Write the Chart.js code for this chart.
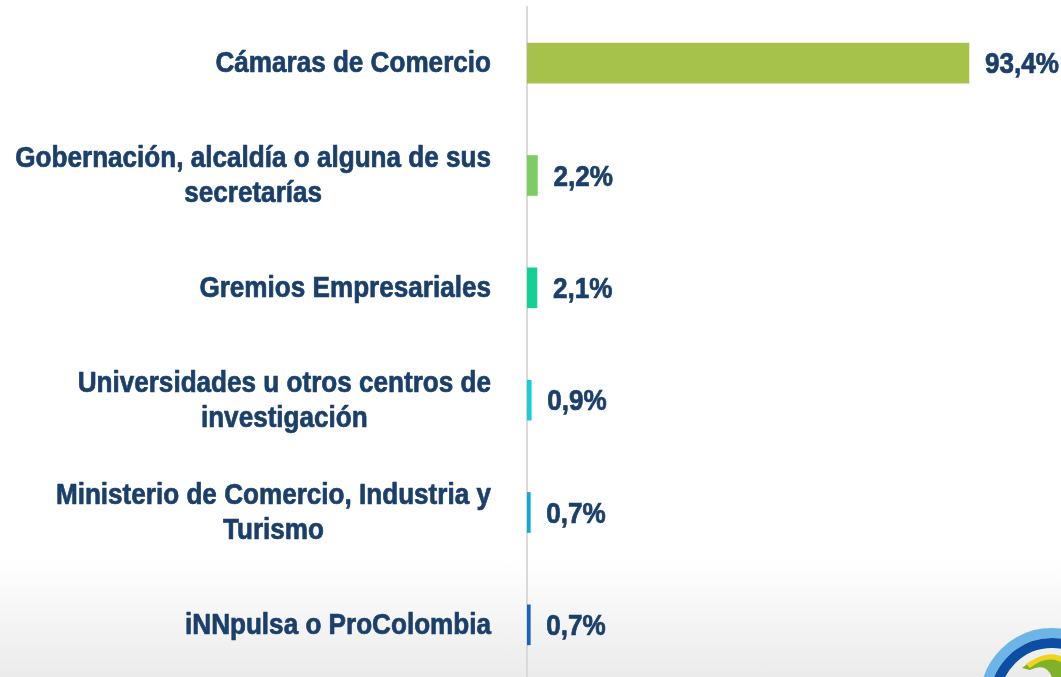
<!DOCTYPE html>
<html>
<head>
<meta charset="utf-8">
<script src="https://cdn.jsdelivr.net/npm/chart.js@4.4.1/dist/chart.umd.min.js"></script>
<style>
html,body{margin:0;padding:0;width:1061px;height:677px;overflow:hidden;}
body{background:linear-gradient(to bottom,#ffffff 0px,#ffffff 560px,#ebebeb 677px);position:relative;}
#wrap{position:absolute;left:0;top:0;width:1061px;height:681px;}
#logo{position:absolute;left:0;top:0;width:1061px;height:677px;pointer-events:none;}
</style>
</head>
<body>
<div id="wrap"><canvas id="c"></canvas></div>
<svg id="logo" width="1061" height="677">
  <circle cx="1052" cy="700" r="67" fill="none" stroke="#6db5e6" stroke-width="10"/>
  <circle cx="1052" cy="700" r="57" fill="none" stroke="#0b4ea2" stroke-width="10"/>
  <path d="M1022 668 Q1044 650 1061 658 L1061 677 L1052 677 Q1046 662 1030 670 Z" fill="#7fb22a"/>
  <path d="M1026 664 Q1046 650 1061 656 L1061 662 Q1046 655 1030 668 Z" fill="#f0d41c"/>
</svg>
<script>
const categories = [
  "Cámaras de Comercio",
  ["Gobernación, alcaldía o alguna de sus", "secretarías"],
  "Gremios Empresariales",
  ["Universidades u otros centros de", "investigación"],
  ["Ministerio de Comercio, Industria y", "Turismo"],
  "iNNpulsa o ProColombia"
];
const values = [93.4, 2.2, 2.1, 0.9, 0.7, 0.7];
const barColors = ["#a6c24a", "#7dcd63", "#15d096", "#17ccdc", "#0fa6de", "#1565c5"];

const FONT = '"Liberation Sans",Arial,sans-serif';
const NARROW = 0.9;
const TEXT_COLOR = "#1b3f6b";
const fmt = v => v.toFixed(1).replace(".", ",") + "%";

function narrowText(ctx, text, x, y, align) {
  const w = ctx.measureText(text).width * NARROW;
  let left = x;
  if (align === "center") left = x - w / 2;
  else if (align === "right") left = x - w;
  ctx.save();
  ctx.translate(left, y);
  ctx.scale(NARROW, 1);
  ctx.textAlign = "left";
  ctx.strokeStyle = TEXT_COLOR;
  ctx.lineWidth = 0.7;
  ctx.lineJoin = "round";
  ctx.strokeText(text, 0, 0);
  ctx.fillText(text, 0, 0);
  ctx.restore();
}

const labelPlugin = {
  id: "customLabels",
  afterDraw(chart) {
    const ctx = chart.ctx;
    const yScale = chart.scales.y;
    ctx.save();
    ctx.fillStyle = TEXT_COLOR;
    ctx.font = "bold 29px " + FONT;
    ctx.textBaseline = "middle";
    const rightEdge = chart.chartArea.left - 36;
    const lh = 35;
    categories.forEach((lab, i) => {
      const lines = Array.isArray(lab) ? lab : [lab];
      const yc = yScale.getPixelForTick(i);
      const w = Math.max(...lines.map(l => ctx.measureText(l).width * NARROW));
      const cx = rightEdge - w / 2;
      lines.forEach((l, k) => {
        const y = yc + 1 + (k - (lines.length - 1) / 2) * lh;
        narrowText(ctx, l, cx, y, "center");
      });
    });
    const meta = chart.getDatasetMeta(0);
    meta.data.forEach((bar, i) => {
      narrowText(ctx, fmt(values[i]), bar.x + 16, bar.y + 2, "left");
    });
    ctx.restore();
  }
};

new Chart(document.getElementById("c"), {
  type: "bar",
  data: {
    labels: categories,
    datasets: [{
      data: values,
      backgroundColor: barColors,
      borderWidth: 0,
      barThickness: 40
    }]
  },
  options: {
    indexAxis: "y",
    responsive: true,
    maintainAspectRatio: false,
    animation: false,
    layout: { padding: { top: 7, bottom: 0, left: 0, right: 0 } },
    plugins: { legend: { display: false }, tooltip: { enabled: false } },
    scales: {
      x: { display: false, min: 0, max: 112.85 },
      y: {
        grid: { display: false },
        border: { display: true, color: "#d9d9d9", width: 2 },
        ticks: { display: false },
        afterFit(scale) { scale.width = 527; }
      }
    }
  },
  plugins: [labelPlugin]
});
</script>
</body>
</html>
